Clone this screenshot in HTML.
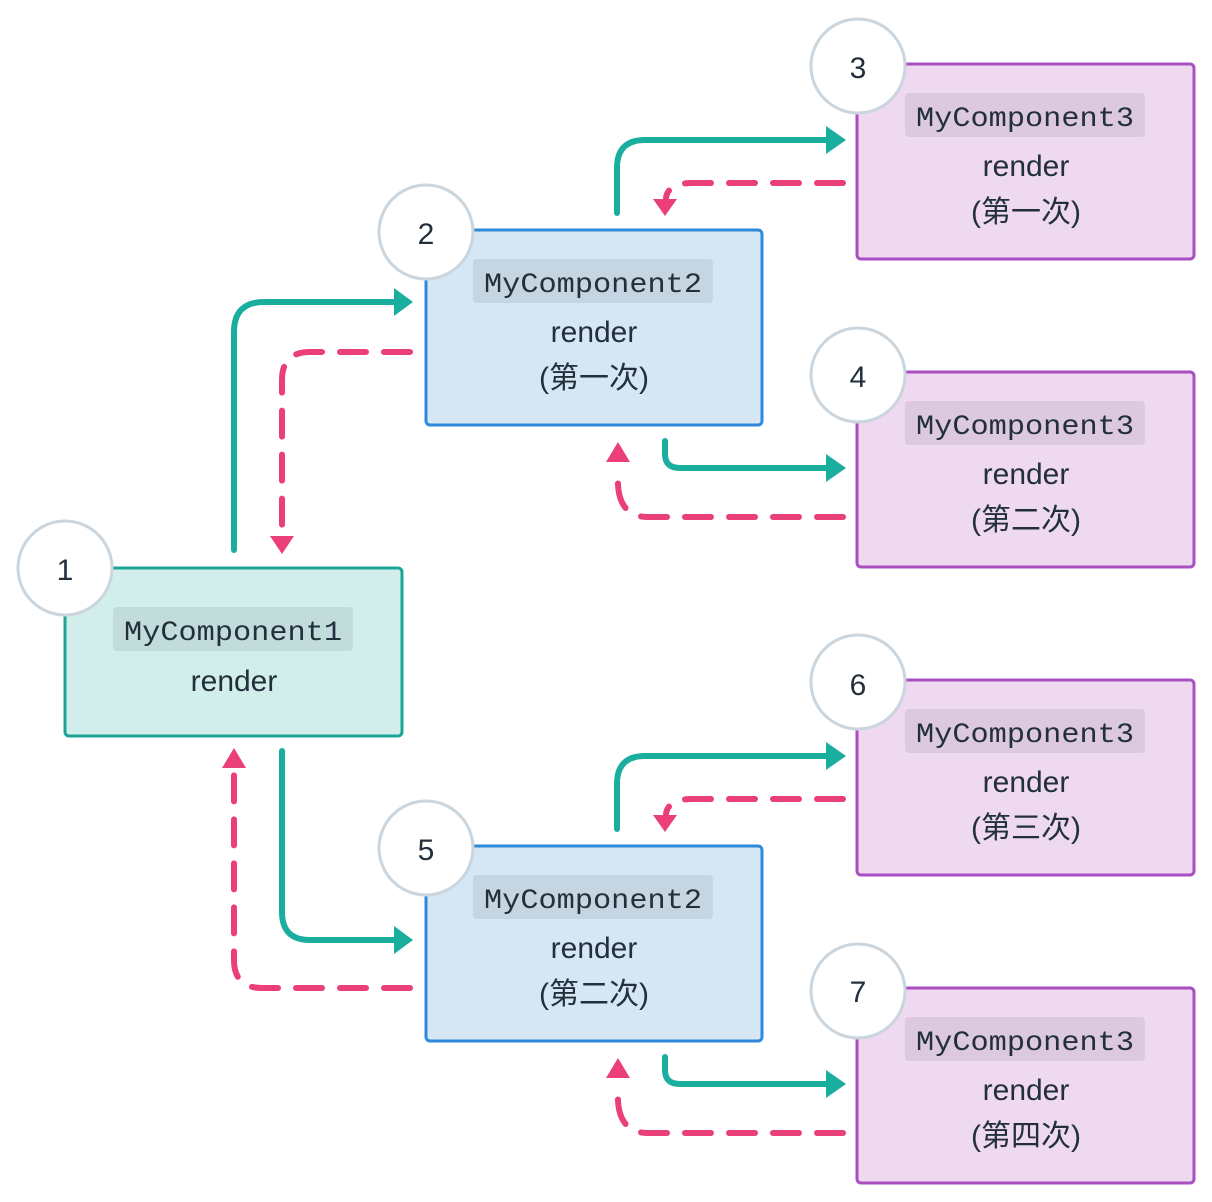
<!DOCTYPE html>
<html><head><meta charset="utf-8"><style>
html,body{margin:0;padding:0;background:#fff;}
svg{display:block}
.mono{font-family:"Liberation Mono",monospace;font-size:28px;fill:#23303c}
.t{font-family:"Liberation Sans","Noto Sans CJK SC",sans-serif;font-size:30px;fill:#23303c}
.n{font-family:"Liberation Sans",sans-serif;font-size:30px;fill:#23303c}
.g{fill:none;stroke:#1aae9f;stroke-width:6;stroke-linecap:round;stroke-linejoin:round}
.p{fill:none;stroke:#ea3f77;stroke-width:6;stroke-linecap:round;stroke-dasharray:26 18}
.ga{fill:#1aae9f}.pa{fill:#ea3f77}
.c{fill:#fff;stroke:#cbd5dd;stroke-width:3}
</style></head><body>
<svg width="1212" height="1202" viewBox="0 0 1212 1202" xmlns="http://www.w3.org/2000/svg">
<defs>
<g id="mod">
  <!-- box2 -->
  <rect x="426" y="230" width="336" height="195" rx="4" fill="#d5e6f5" stroke="#2e8ad8" stroke-width="3"/>
  <rect x="473" y="259" width="240" height="44" rx="4" fill="#c5d5e2"/>
  <text x="593" y="292" text-anchor="middle" class="mono" textLength="218" lengthAdjust="spacingAndGlyphs">MyComponent2</text>
  <text x="594" y="342" text-anchor="middle" class="t">render</text>
  <!-- arrows to children -->
  <path class="g" d="M617,213 V168 Q617,140 645,140 H828"/>
  <polygon class="ga" points="826,126 846,140 826,154"/>
  <path class="p" d="M843,183 H692 Q668,183 666,198"/>
  <polygon class="pa" points="653,199 677,199 665,216"/>
  <path class="g" d="M665,441 V454 Q665,468 680,468 H828"/>
  <polygon class="ga" points="826,454 846,468 826,482"/>
  <path class="p" d="M843,517 H648 Q620,517 618,485 V470"/>
  <polygon class="pa" points="606,462 630,462 618,442"/>
  <!-- child boxes -->
  <rect x="857" y="64" width="337" height="195" rx="4" fill="#eed9f1" stroke="#a94fc0" stroke-width="3"/>
  <rect x="905" y="93" width="240" height="44" rx="4" fill="#dcc8df"/>
  <text x="1025" y="126" text-anchor="middle" class="mono" textLength="218" lengthAdjust="spacingAndGlyphs">MyComponent3</text>
  <text x="1026" y="176" text-anchor="middle" class="t">render</text>
  <rect x="857" y="372" width="337" height="195" rx="4" fill="#eed9f1" stroke="#a94fc0" stroke-width="3"/>
  <rect x="905" y="401" width="240" height="44" rx="4" fill="#dcc8df"/>
  <text x="1025" y="434" text-anchor="middle" class="mono" textLength="218" lengthAdjust="spacingAndGlyphs">MyComponent3</text>
  <text x="1026" y="484" text-anchor="middle" class="t">render</text>
  <circle class="c" cx="426" cy="232" r="47"/>
  <circle class="c" cx="858" cy="66" r="47"/>
  <circle class="c" cx="858" cy="375" r="47"/>
</g>
</defs>
<use href="#mod"/>
<use href="#mod" transform="translate(0,616)"/>

<!-- box1 -->
<rect x="65" y="568" width="337" height="168" rx="4" fill="#d1eeea" stroke="#1aa697" stroke-width="3"/>
<rect x="113" y="607" width="240" height="44" rx="4" fill="#c1dcdb"/>
<text x="233" y="640" text-anchor="middle" class="mono" textLength="218" lengthAdjust="spacingAndGlyphs">MyComponent1</text>
<text x="234" y="691" text-anchor="middle" class="t">render</text>
<circle class="c" cx="65" cy="568" r="47"/>

<!-- arrows from 1 -->
<path class="g" d="M234,550 V332 Q234,302 264,302 H394"/>
<polygon class="ga" points="394,288 413,302 394,316"/>
<path class="p" d="M410,352 H310 Q282,352 282,380 V535"/>
<polygon class="pa" points="270,536 294,536 282,554"/>
<path class="g" d="M282,751 V912 Q282,940 310,940 H394"/>
<polygon class="ga" points="394,926 413,940 394,954"/>
<path class="p" d="M410,988 H262 Q234,988 234,960 V770"/>
<polygon class="pa" points="222,768 246,768 234,748"/>

<!-- number and CJK labels -->
<text x="65" y="580" text-anchor="middle" class="n">1</text>
<text x="426" y="244" text-anchor="middle" class="n">2</text>
<text x="858" y="78" text-anchor="middle" class="n">3</text>
<text x="858" y="387" text-anchor="middle" class="n">4</text>
<text x="426" y="860" text-anchor="middle" class="n">5</text>
<text x="858" y="695" text-anchor="middle" class="n">6</text>
<text x="858" y="1002" text-anchor="middle" class="n">7</text>
<text x="594" y="388" text-anchor="middle" class="t">(第一次)</text>
<text x="1026" y="222" text-anchor="middle" class="t">(第一次)</text>
<text x="1026" y="530" text-anchor="middle" class="t">(第二次)</text>
<text x="594" y="1004" text-anchor="middle" class="t">(第二次)</text>
<text x="1026" y="838" text-anchor="middle" class="t">(第三次)</text>
<text x="1026" y="1146" text-anchor="middle" class="t">(第四次)</text>
</svg>
</body></html>
